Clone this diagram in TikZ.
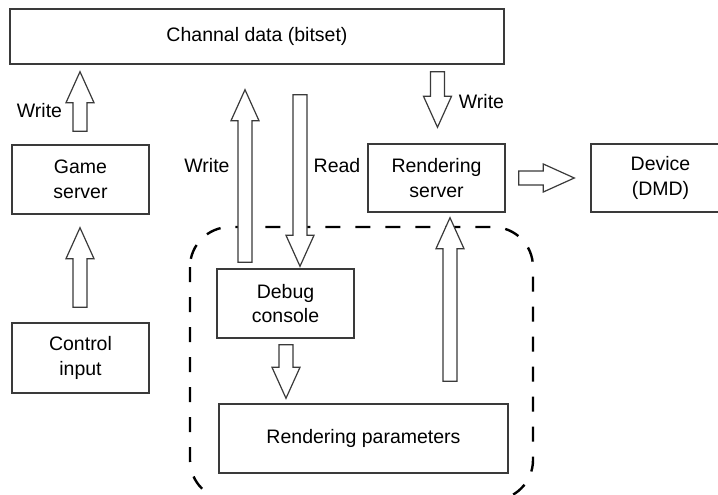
\documentclass[tikz,border=0pt]{standalone}
\usepackage{fontspec}
\setmainfont{Liberation Sans}
\usetikzlibrary{calc}
\definecolor{edge}{HTML}{3A3A3A}
\tikzset{
  box/.style={draw=edge, line width=1.4pt, fill=white, rectangle, align=center,
    inner sep=0pt, font=\fontsize{19.5}{24.5}\selectfont},
  lbl/.style={inner sep=0pt, font=\fontsize{19.5}{24.5}\selectfont},
  barrow/.style={draw=edge, line width=1.2pt, fill=white, line join=miter},
  group/.style={draw=black, line width=2.4pt, dash pattern=on 15pt off 15pt, rounded corners=40pt}
}
\newcommand{\blockarrow}[2]{%
  \path ($(#2)!31pt!(#1)$) coordinate (ba-h);
  \draw[barrow] ($(#1)!7pt!90:(#2)$) -- ($(ba-h)!7pt!-90:(#1)$) -- ($(ba-h)!14pt!-90:(#1)$)
    -- (#2) -- ($(ba-h)!14pt!90:(#1)$) -- ($(ba-h)!7pt!90:(#1)$) -- ($(#1)!7pt!-90:(#2)$) -- cycle;
}
\begin{document}
\begin{tikzpicture}[x=1pt, y=-1pt]
\clip (0,0) rectangle (718,495);
\fill[white] (0,0) rectangle (718,495);

% dashed group
\draw[group] (190,227) rectangle (533,500);

% boxes
\node[box, minimum width=494pt, minimum height=55pt] (channal) at (257,36.5) {Channal data (bitset)};
\node[box, minimum width=137pt, minimum height=69pt] (game) at (80.5,179.5) {Game\\server};
\node[box, minimum width=137pt, minimum height=70pt] (control) at (80.5,358) {Control\\input};
\node[box, minimum width=137pt, minimum height=69pt] (debug) at (285.5,303.5) {Debug\\console};
\node[box, minimum width=289pt, minimum height=69pt] (params) at (363.5,438.5) {Rendering parameters};
\node[box, minimum width=137pt, minimum height=68pt] (rserver) at (436.5,178) {Rendering\\server};
\node[box, minimum width=139pt, minimum height=68pt] (device) at (660.5,178) {Device\\(DMD)};

% connector end points
\coordinate (g1) at ($(game.north)+(-0.5,-13)$);
\coordinate (g2) at ($(channal.south)+(-177,7)$);
\coordinate (c1) at ($(control.north)+(-0.5,-15)$);
\coordinate (c2) at ($(game.south)+(-0.5,13)$);
\coordinate (dw1) at ($(debug.north)+(-40.5,-6)$);
\coordinate (dw2) at ($(channal.south)+(-12,25)$);
\coordinate (dr1) at ($(channal.south)+(43,30)$);
\coordinate (dr2) at ($(debug.north)+(14.5,-2)$);
\coordinate (rw1) at ($(channal.south)+(180.5,7)$);
\coordinate (rw2) at ($(rserver.north)+(1,-16)$);
\coordinate (rd1) at ($(rserver.east)+(13,0)$);
\coordinate (rd2) at ($(device.west)+(-16,0)$);
\coordinate (dp1) at ($(debug.south)+(0.5,6)$);
\coordinate (dp2) at ($(params.north)+(-77.5,-5)$);
\coordinate (pr1) at ($(params.north)+(86.5,-22)$);
\coordinate (pr2) at ($(rserver.south)+(13.5,5)$);

% block arrows
\blockarrow{g1}{g2}
\blockarrow{c1}{c2}
\blockarrow{dw1}{dw2}
\blockarrow{dr1}{dr2}
\blockarrow{rw1}{rw2}
\blockarrow{rd1}{rd2}
\blockarrow{dp1}{dp2}
\blockarrow{pr1}{pr2}

% labels
\node[lbl] (lw1) at (39.5,111) {Write};
\node[lbl] (lw2) at (207,166) {Write};
\node[lbl] (lr) at (337,166) {Read};
\node[lbl] (lw3) at (481.5,102) {Write};
\end{tikzpicture}
\end{document}
